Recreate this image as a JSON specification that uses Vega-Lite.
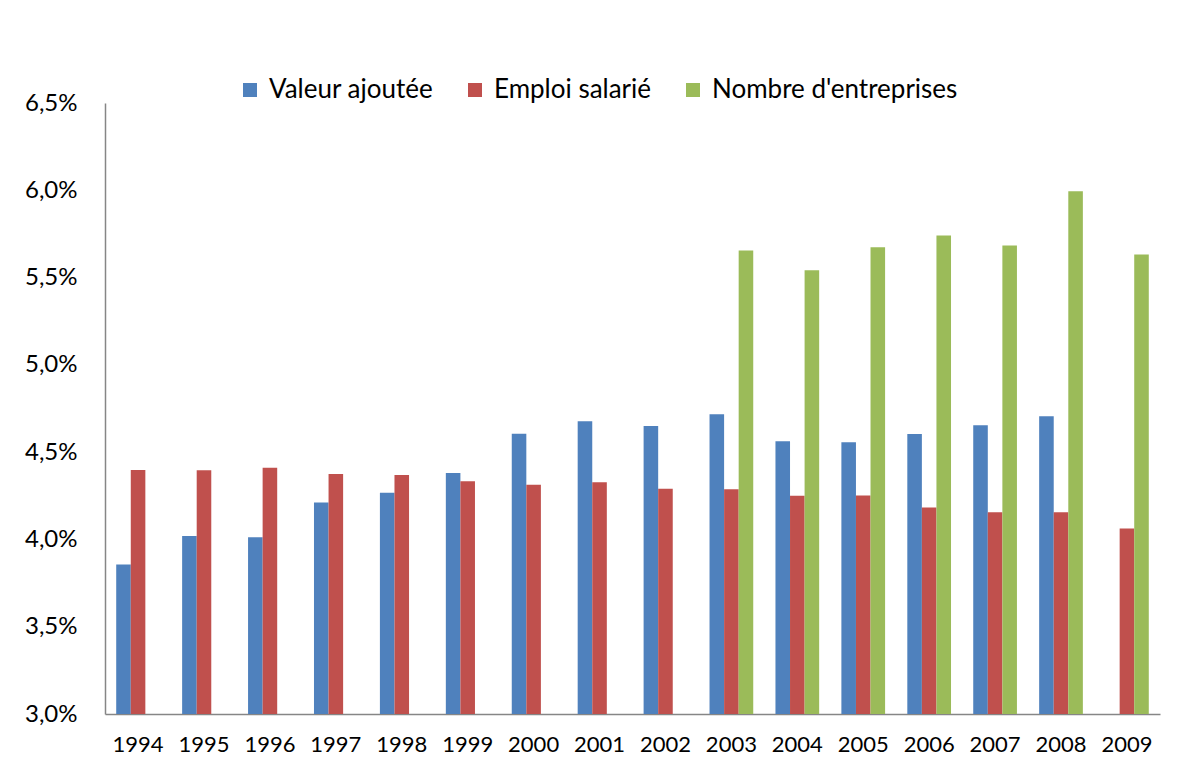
{
  "$schema": "https://vega.github.io/schema/vega-lite/v6.json",
  "width": 1055,
  "height": 611,
  "autosize": {"type": "none"},
  "padding": {"left": 105, "top": 103, "right": 23, "bottom": 57},
  "background": "white",
  "config": {"view": {"stroke": null}, "font": "Lato"},
  "data": {
    "values": [
      {"annee": "1994", "serie": "Valeur ajoutée", "valeur": 3.856},
      {"annee": "1995", "serie": "Valeur ajoutée", "valeur": 4.019},
      {"annee": "1996", "serie": "Valeur ajoutée", "valeur": 4.012},
      {"annee": "1997", "serie": "Valeur ajoutée", "valeur": 4.212},
      {"annee": "1998", "serie": "Valeur ajoutée", "valeur": 4.267},
      {"annee": "1999", "serie": "Valeur ajoutée", "valeur": 4.381},
      {"annee": "2000", "serie": "Valeur ajoutée", "valeur": 4.606},
      {"annee": "2001", "serie": "Valeur ajoutée", "valeur": 4.677},
      {"annee": "2002", "serie": "Valeur ajoutée", "valeur": 4.650},
      {"annee": "2003", "serie": "Valeur ajoutée", "valeur": 4.717},
      {"annee": "2004", "serie": "Valeur ajoutée", "valeur": 4.563},
      {"annee": "2005", "serie": "Valeur ajoutée", "valeur": 4.556},
      {"annee": "2006", "serie": "Valeur ajoutée", "valeur": 4.604},
      {"annee": "2007", "serie": "Valeur ajoutée", "valeur": 4.654},
      {"annee": "2008", "serie": "Valeur ajoutée", "valeur": 4.706},
      {"annee": "1994", "serie": "Emploi salarié", "valeur": 4.398},
      {"annee": "1995", "serie": "Emploi salarié", "valeur": 4.396},
      {"annee": "1996", "serie": "Emploi salarié", "valeur": 4.410},
      {"annee": "1997", "serie": "Emploi salarié", "valeur": 4.375},
      {"annee": "1998", "serie": "Emploi salarié", "valeur": 4.369},
      {"annee": "1999", "serie": "Emploi salarié", "valeur": 4.333},
      {"annee": "2000", "serie": "Emploi salarié", "valeur": 4.313},
      {"annee": "2001", "serie": "Emploi salarié", "valeur": 4.327},
      {"annee": "2002", "serie": "Emploi salarié", "valeur": 4.290},
      {"annee": "2003", "serie": "Emploi salarié", "valeur": 4.288},
      {"annee": "2004", "serie": "Emploi salarié", "valeur": 4.250},
      {"annee": "2005", "serie": "Emploi salarié", "valeur": 4.252},
      {"annee": "2006", "serie": "Emploi salarié", "valeur": 4.183},
      {"annee": "2007", "serie": "Emploi salarié", "valeur": 4.156},
      {"annee": "2008", "serie": "Emploi salarié", "valeur": 4.156},
      {"annee": "2009", "serie": "Emploi salarié", "valeur": 4.063},
      {"annee": "2003", "serie": "Nombre d'entreprises", "valeur": 5.655},
      {"annee": "2004", "serie": "Nombre d'entreprises", "valeur": 5.542},
      {"annee": "2005", "serie": "Nombre d'entreprises", "valeur": 5.674},
      {"annee": "2006", "serie": "Nombre d'entreprises", "valeur": 5.741},
      {"annee": "2007", "serie": "Nombre d'entreprises", "valeur": 5.684},
      {"annee": "2008", "serie": "Nombre d'entreprises", "valeur": 5.994},
      {"annee": "2009", "serie": "Nombre d'entreprises", "valeur": 5.632}
    ]
  },
  "mark": {"type": "bar"},
  "encoding": {
    "x": {
      "field": "annee",
      "type": "ordinal",
      "scale": {"paddingInner": 0.337, "paddingOuter": 0.17},
      "axis": {
        "title": null,
        "labelAngle": 0,
        "labelFontSize": 22,
        "labelColor": "black",
        "labelPadding": 20,
        "ticks": false,
        "domainColor": "#868686",
        "domainWidth": 1.5
      }
    },
    "xOffset": {
      "field": "serie",
      "type": "nominal",
      "sort": ["Valeur ajoutée", "Emploi salarié", "Nombre d'entreprises"]
    },
    "y": {
      "field": "valeur",
      "type": "quantitative",
      "scale": {"domain": [3, 6.5], "zero": false, "nice": false},
      "axis": {
        "title": null,
        "values": [3, 3.5, 4, 4.5, 5, 5.5, 6, 6.5],
        "labelExpr": "replace(format(datum.value, '.1f'), '.', ',') + '%'",
        "grid": false,
        "ticks": false,
        "labelFontSize": 24,
        "labelColor": "black",
        "labelPadding": 28,
        "domainColor": "#868686",
        "domainWidth": 1.5
      }
    },
    "y2": {"datum": 3},
    "color": {
      "field": "serie",
      "type": "nominal",
      "sort": ["Valeur ajoutée", "Emploi salarié", "Nombre d'entreprises"],
      "scale": {"range": ["#4F81BD", "#C0504D", "#9BBB59"]},
      "legend": {
        "orient": "none",
        "legendX": 132,
        "legendY": -26,
        "direction": "horizontal",
        "title": null,
        "symbolType": "square",
        "symbolSize": 196,
        "symbolStrokeWidth": 0,
        "labelFontSize": 26,
        "labelLimit": 0,
        "labelColor": "black",
        "labelOffset": 6,
        "columnPadding": 28
      }
    }
  }
}
